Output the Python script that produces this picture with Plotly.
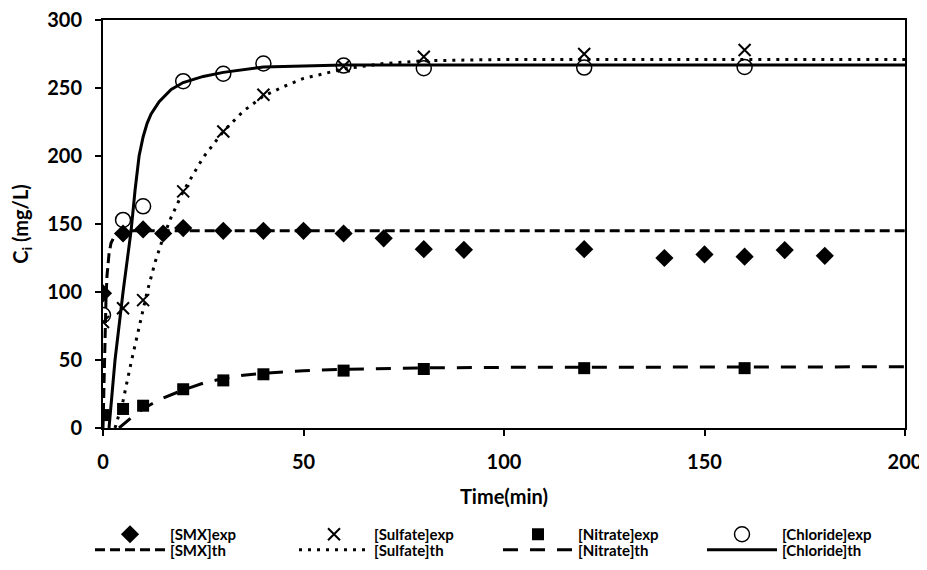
import plotly.graph_objects as go

# ---------------- data ----------------
t_smx = [0, 5, 10, 15, 20, 30, 40, 50, 60, 70, 80, 90, 120, 140, 150, 160, 170, 180]
smx_exp = [99, 143, 146, 143, 147, 145, 145, 145, 143, 139.5, 131.5, 131, 131.5, 125, 127.6, 126, 130.8, 126.6]

t_ions = [0, 5, 10, 20, 30, 40, 60, 80, 120, 160]
sulfate_exp = [78, 88, 94, 174, 218, 245, 266, 273, 275, 278]
nitrate_exp = [9.5, 14, 16.4, 28.5, 35, 39.5, 42.2, 43.4, 44, 44]
chloride_exp = [83, 153, 163, 255, 260.5, 268, 266.5, 264.5, 265, 265.5]

# theoretical curves
t_smx_th = [0, 0.25, 0.5, 0.75, 1, 1.5, 2, 3, 4, 6, 200]
smx_th = [0, 35, 70, 95, 112, 128, 136, 142, 144, 145, 145]

t_sulf_th = [3, 5, 7, 9, 11, 13, 15, 17, 20, 25, 30, 35, 40, 45, 50, 60, 70, 80, 100, 200]
sulfate_th = [0, 20, 48, 75, 100, 122, 140, 155, 174, 199, 218, 233, 244, 251, 257, 264, 268, 270, 271, 271]

t_nit_th = [4, 6, 8, 10, 12, 15, 20, 25, 30, 35, 40, 50, 60, 80, 100, 200]
nitrate_th = [0, 5, 10, 14, 17.5, 22, 28, 33, 36.5, 38.8, 40.3, 42.1, 43.2, 44.2, 44.6, 45]

t_chl_th = [1.5, 3, 5, 7, 8, 9, 10, 11, 12, 14, 17, 20, 25, 30, 40, 50, 60, 80, 200]
chloride_th = [0, 50, 100, 145, 175, 200, 214, 224, 231, 240, 249, 254, 258.5, 261.5, 265.5, 266.5, 267, 267, 267]

x_ticks = [0, 50, 100, 150, 200]
y_ticks = [0, 50, 100, 150, 200, 250, 300]

FONT = "Lato"
BLACK = "#000000"

fig = go.Figure()

# theoretical lines (drawn first so markers sit on top)
fig.add_trace(go.Scatter(x=t_smx_th, y=smx_th, mode="lines", name="[SMX]th",
                         line=dict(color=BLACK, width=3, dash="10px,5px"), legend="legend2"))
fig.add_trace(go.Scatter(x=t_sulf_th, y=sulfate_th, mode="lines", name="[Sulfate]th",
                         line=dict(color=BLACK, width=3, dash="3px,6px"), legend="legend2"))
fig.add_trace(go.Scatter(x=t_nit_th, y=nitrate_th, mode="lines", name="[Nitrate]th",
                         line=dict(color=BLACK, width=3, dash="15px,12px"), legend="legend2"))
fig.add_trace(go.Scatter(x=t_chl_th, y=chloride_th, mode="lines", name="[Chloride]th",
                         line=dict(color=BLACK, width=3), legend="legend2"))

# experimental points
fig.add_trace(go.Scatter(x=t_smx, y=smx_exp, mode="markers", name="[SMX]exp",
                         marker=dict(symbol="diamond", size=14, color=BLACK), legend="legend"))
fig.add_trace(go.Scatter(x=t_ions, y=sulfate_exp, mode="markers", name="[Sulfate]exp",
                         marker=dict(symbol="x-thin-open", size=12, color=BLACK,
                                     line=dict(color=BLACK, width=2)), legend="legend"))
fig.add_trace(go.Scatter(x=t_ions, y=nitrate_exp, mode="markers", name="[Nitrate]exp",
                         marker=dict(symbol="square", size=12, color=BLACK), legend="legend"))
fig.add_trace(go.Scatter(x=t_ions, y=chloride_exp, mode="markers", name="[Chloride]exp",
                         marker=dict(symbol="circle-open", size=15, color=BLACK,
                                     line=dict(color=BLACK, width=1.5)), legend="legend"))

axis_common = dict(
    showgrid=False, zeroline=False, showline=True, linecolor=BLACK, linewidth=2,
    mirror=True, ticks="outside", ticklen=6, tickwidth=1.5, tickcolor=BLACK,
    automargin=False, ticklabeloverflow="allow",
    tickfont=dict(family=FONT, size=20, color=BLACK, weight="bold"),
)

legend_common = dict(
    orientation="h", x=-0.0162, xanchor="left", yanchor="top",
    entrywidth=119, entrywidthmode="pixels", itemwidth=70,
    font=dict(family=FONT, size=15, color=BLACK, weight="bold"),
    bgcolor="rgba(0,0,0,0)", traceorder="normal", tracegroupgap=0,
)

# the page body has an 8px default margin; the figure starts at (8, 8)
fig.update_layout(
    width=919, height=562,
    margin=dict(l=95, r=22, t=12, b=142, autoexpand=False),
    paper_bgcolor="white", plot_bgcolor="white",
    font=dict(family=FONT, color=BLACK),
    xaxis=dict(range=[0, 200], tickvals=x_ticks, ticklabelstandoff=9,
               title=dict(text="Time(min)", standoff=18,
                          font=dict(family=FONT, size=20, color=BLACK, weight="bold")),
               **axis_common),
    yaxis=dict(range=[0, 300], tickvals=y_ticks, ticklabelstandoff=9,
               title=dict(text="C<sub>i</sub> (mg/L)", standoff=14,
                          font=dict(family=FONT, size=20, color=BLACK, weight="bold")),
               **axis_common),
    legend=dict(y=-0.2206, **legend_common),
    legend2=dict(y=-0.2586, **legend_common),
)

fig.write_html("out.html")
